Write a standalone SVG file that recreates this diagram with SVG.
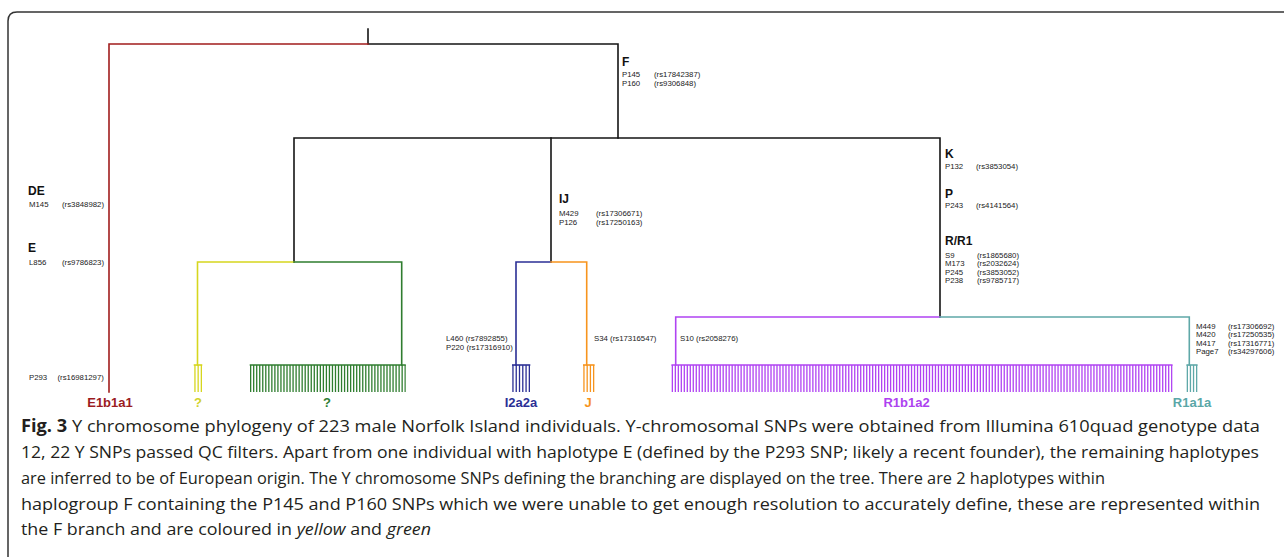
<svg xmlns="http://www.w3.org/2000/svg" width="1284" height="557" viewBox="0 0 1284 557">
<style>
.frame{fill:none;stroke:#333;stroke-width:1.5}
.ln{fill:none;stroke-width:1.6;stroke-linecap:square}
.k{stroke:#151515}.red{stroke:#a11d1d}.yel{stroke:#d6d61e}.grn{stroke:#2f7d2f}.blu{stroke:#2b2f95}.org{stroke:#f7941d}.pur{stroke:#b043f2}.teal{stroke:#5fa8a8}
.bars{fill:none;stroke-width:27}
.lbl{font-family:"Liberation Sans",Arial,sans-serif;font-weight:bold;font-size:12px;fill:#111}
.snp{font-family:"Liberation Sans",Arial,sans-serif;font-size:7.8px;fill:#222}
.hap{font-family:"Liberation Sans",Arial,sans-serif;font-weight:bold;font-size:13px;text-anchor:middle}
.cap{font-family:"Open Sans","Liberation Sans",Arial,sans-serif;font-size:17px;fill:#231f20}
</style>
<path class="frame" d="M1284 12 H17 Q8 12 8 21 V557"/>

<g id="connectors">
  <path class="ln k" d="M368 29 V44 H618 V138"/>
  <path class="ln k" d="M294 262 V138 H940 V317"/>
  <path class="ln k" d="M551 138 V262"/>
  <path class="ln red" d="M368 44 H109 V392"/>
  <path class="ln yel" d="M294 262 H197.5 V365"/>
  <path class="ln grn" d="M294 262 H401.7 V365"/>
  <path class="ln blu" d="M551 262 H516 V365"/>
  <path class="ln org" d="M551 262 H586.7 V365"/>
  <path class="ln pur" d="M940 317 H675.7 V365"/>
  <path class="ln teal" d="M940 317 H1189.3 V365"/>
  <path class="ln yel" d="M194.5 365 H201.5"/>
  <line class="bars yel" x1="194.3" y1="378.5" x2="202" y2="378.5" stroke-dasharray="1.3 1.9"/>
  <path class="ln grn" d="M250.5 365 H405"/>
  <line class="bars grn" x1="250" y1="378.5" x2="405.7" y2="378.5" stroke-dasharray="1.3 1.73"/>
  <path class="ln blu" d="M512.8 365 H529.5"/>
  <line class="bars blu" x1="512.3" y1="378.5" x2="530" y2="378.5" stroke-dasharray="1.3 1.98"/>
  <path class="ln org" d="M583.8 365 H593.8"/>
  <line class="bars org" x1="583.3" y1="378.5" x2="594.3" y2="378.5" stroke-dasharray="1.3 1.93"/>
  <path class="ln pur" d="M672.2 365 H1171.8"/>
  <line class="bars pur" x1="671.7" y1="378.5" x2="1172.3" y2="378.5" stroke-dasharray="1.3 1.69"/>
  <path class="ln teal" d="M1187.2 365 H1196.8"/>
  <line class="bars teal" x1="1186.7" y1="378.5" x2="1197.3" y2="378.5" stroke-dasharray="1.3 1.8"/>
</g>

<g id="node-F">
  <text class="lbl" x="622" y="66">F</text>
  <text class="snp" x="622" y="77">P145</text><text class="snp" x="654" y="77">(rs17842387)</text>
  <text class="snp" x="622" y="85.5">P160</text><text class="snp" x="654" y="85.5">(rs9306848)</text>
</g>
<g id="node-DE">
  <text class="lbl" x="28" y="195">DE</text>
  <text class="snp" x="29" y="207">M145</text><text class="snp" x="62" y="207">(rs3848982)</text>
</g>
<g id="node-E">
  <text class="lbl" x="28" y="251.5">E</text>
  <text class="snp" x="29" y="265">L856</text><text class="snp" x="62" y="265">(rs9786823)</text>
</g>
<g id="node-E1b1a1">
  <text class="snp" x="29" y="379.5">P293</text><text class="snp" x="57.5" y="379.5">(rs16981297)</text>
  <text class="hap" x="110" y="406.5" fill="#9b1c1f">E1b1a1</text>
</g>
<g id="node-yellow">
  <text class="hap" x="198" y="406.5" fill="#d2d22a">?</text>
</g>
<g id="node-green">
  <text class="hap" x="327" y="406.5" fill="#2e7d32">?</text>
</g>
<g id="node-IJ">
  <text class="lbl" x="559" y="203">IJ</text>
  <text class="snp" x="559" y="216">M429</text><text class="snp" x="596" y="216">(rs17306671)</text>
  <text class="snp" x="559" y="225">P126</text><text class="snp" x="596" y="225">(rs17250163)</text>
</g>
<g id="node-I2a2a">
  <text class="snp" x="446" y="341">L460 (rs7892855)</text>
  <text class="snp" x="446" y="350">P220 (rs17316910)</text>
  <text class="hap" x="521" y="406.5" fill="#2b2f95">I2a2a</text>
</g>
<g id="node-J">
  <text class="snp" x="594" y="341">S34 (rs17316547)</text>
  <text class="hap" x="588" y="406.5" fill="#f7941d">J</text>
</g>
<g id="node-K">
  <text class="lbl" x="945" y="158">K</text>
  <text class="snp" x="945" y="169">P132</text><text class="snp" x="976" y="169">(rs3853054)</text>
</g>
<g id="node-P">
  <text class="lbl" x="945" y="197.5">P</text>
  <text class="snp" x="945" y="208">P243</text><text class="snp" x="976" y="208">(rs4141564)</text>
</g>
<g id="node-R">
  <text class="lbl" x="945" y="245">R/R1</text>
  <text class="snp" x="945" y="257.5">S9</text><text class="snp" x="977" y="257.5">(rs1865680)</text>
  <text class="snp" x="945" y="266">M173</text><text class="snp" x="977" y="266">(rs2032624)</text>
  <text class="snp" x="945" y="274.5">P245</text><text class="snp" x="977" y="274.5">(rs3853052)</text>
  <text class="snp" x="945" y="283">P238</text><text class="snp" x="977" y="283">(rs9785717)</text>
</g>
<g id="node-R1b1a2">
  <text class="snp" x="680" y="341">S10 (rs2058276)</text>
  <text class="hap" x="906.5" y="406.5" fill="#ad42f0">R1b1a2</text>
</g>
<g id="node-R1a1a">
  <text class="snp" x="1196" y="328.5">M449</text><text class="snp" x="1228" y="328.5">(rs17306692)</text>
  <text class="snp" x="1196" y="337">M420</text><text class="snp" x="1228" y="337">(rs17250535)</text>
  <text class="snp" x="1196" y="345.5">M417</text><text class="snp" x="1228" y="345.5">(rs17316771)</text>
  <text class="snp" x="1196" y="354">Page7</text><text class="snp" x="1228" y="354">(rs34297606)</text>
  <text class="hap" x="1192" y="406.5" fill="#5aa7a7">R1a1a</text>
</g>

<g id="caption">
  <text class="cap" x="21" y="431.5" textLength="1239" lengthAdjust="spacingAndGlyphs"><tspan font-weight="bold">Fig. 3</tspan> Y chromosome phylogeny of 223 male Norfolk Island individuals. Y-chromosomal SNPs were obtained from Illumina 610quad genotype data</text>
  <text class="cap" x="21" y="457.5" textLength="1238" lengthAdjust="spacingAndGlyphs">12, 22 Y SNPs passed QC filters. Apart from one individual with haplotype E (defined by the P293 SNP; likely a recent founder), the remaining haplotypes</text>
  <text class="cap" x="21" y="483.5" textLength="1084" lengthAdjust="spacingAndGlyphs">are inferred to be of European origin. The Y chromosome SNPs defining the branching are displayed on the tree. There are 2 haplotypes within</text>
  <text class="cap" x="21" y="509.5" textLength="1239" lengthAdjust="spacingAndGlyphs">haplogroup F containing the P145 and P160 SNPs which we were unable to get enough resolution to accurately define, these are represented within</text>
  <text class="cap" x="21" y="535" textLength="410" lengthAdjust="spacingAndGlyphs">the F branch and are coloured in <tspan font-style="italic">yellow</tspan> and <tspan font-style="italic">green</tspan></text>
</g>
</svg>
